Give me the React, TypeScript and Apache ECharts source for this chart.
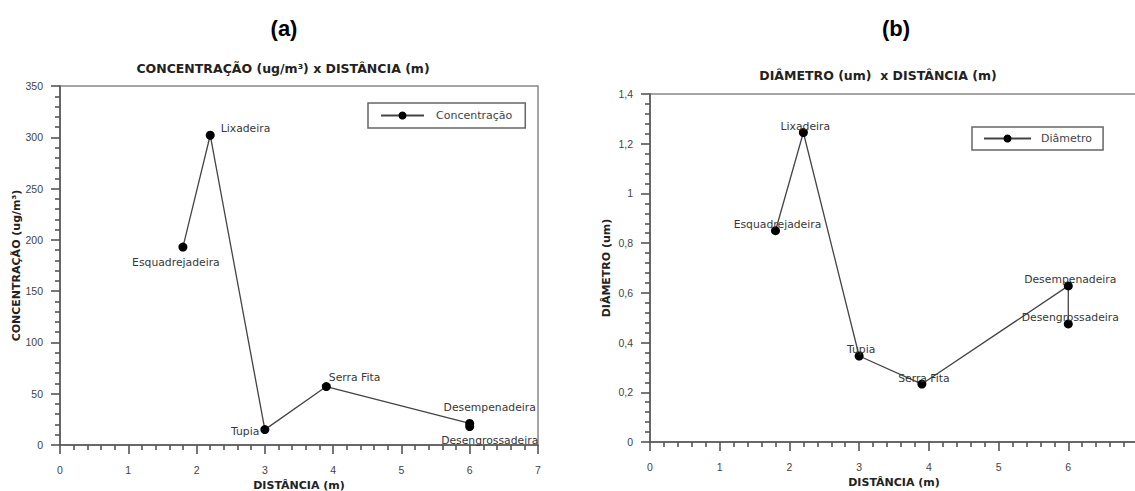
import React, { useEffect, useRef } from "react";
import * as echarts from "echarts";

// ---- Data ----
const pointNames = ["Esquadrejadeira", "Lixadeira", "Tupia", "Serra Fita", "Desempenadeira", "Desengrossadeira"];
const distanceA = [1.8, 2.2, 3.0, 3.9, 6.0, 6.0];
const concentration = [193, 302, 15, 57, 21, 18];
const distanceB = [1.8, 2.2, 3.0, 3.9, 6.0, 6.0];
const diameter = [0.85, 1.245, 0.346, 0.233, 0.628, 0.475];

const xTicksMax = 7;
const concMax = 350;
const concInterval = 50;
const diamMax = 1.4;
const diamInterval = 0.2;

// label placements (style only)
const labelPlacementA = [
  { position: "bottom", distance: 5, offset: [-7, 0] },
  { position: "right", distance: 6, offset: [0, -7] },
  { position: "left", distance: 1, offset: [0, 2] },
  { position: "right", distance: 5, offset: [-7, -9] },
  { position: "top", distance: 5, offset: [20, -1] },
  { position: "bottom", distance: 5, offset: [20, -1] },
];

const TICK_FONT = "Liberation Sans";
const LABEL_FONT = "DejaVu Sans";

function xAxisCfg(gridIndex: number) {
  return {
    type: "value",
    gridIndex,
    min: 0,
    max: xTicksMax,
    interval: 1,
    name: "DISTÂNCIA (m)",
    nameLocation: "middle",
    nameGap: 33,
    nameTextStyle: { fontFamily: LABEL_FONT, fontWeight: "bold", fontSize: 11, color: "#222" },
    axisLine: { show: true, onZero: false, lineStyle: { color: "#555", width: 1.5 } },
    axisTick: { show: true, length: 9, lineStyle: { color: "#555", width: 1.6 } },
    minorTick: { show: true, splitNumber: 5, length: 5, lineStyle: { color: "#555", width: 1.6 } },
    axisLabel: { margin: 19, fontFamily: TICK_FONT, fontSize: 10.5, color: "#444" },
    splitLine: { show: false },
  };
}

function yAxisCfg(gridIndex: number, max: number, interval: number, name: string, fmt: (v: number) => string) {
  return {
    type: "value",
    gridIndex,
    min: 0,
    max,
    interval,
    name,
    nameLocation: "middle",
    nameGap: 38,
    nameTextStyle: { fontFamily: LABEL_FONT, fontWeight: "bold", fontSize: 11, color: "#222" },
    axisLine: { show: true, onZero: false, lineStyle: { color: "#555", width: 1.5 } },
    axisTick: { show: true, length: 9, lineStyle: { color: "#555", width: 1.6 } },
    minorTick: { show: true, splitNumber: 5, length: 5, lineStyle: { color: "#555", width: 1.6 } },
    axisLabel: { margin: 17, fontFamily: TICK_FONT, fontSize: 10.5, color: "#444", formatter: fmt },
    splitLine: { show: false },
  };
}

export default function App() {
  const ref = useRef<HTMLDivElement>(null);

  useEffect(() => {
    if (!ref.current) return;
    const chart = echarts.init(ref.current, undefined, { renderer: "svg" });

    const labelBase = { show: true, fontFamily: LABEL_FONT, fontSize: 10.8, color: "#383838" };

    const dataA = pointNames.map((n, i) => ({
      name: n,
      value: [distanceA[i], concentration[i]],
      label: { ...labelBase, ...labelPlacementA[i], formatter: "{b}" },
    }));
    const dataB = pointNames.map((n, i) => ({
      name: n,
      value: [distanceB[i], diameter[i]],
      label: { ...labelBase, position: "inside", offset: [2, -6], formatter: "{b}" },
    }));

    const legendBase = {
      orient: "horizontal",
      borderColor: "#666",
      borderWidth: 1.5,
      itemHeight: 10,
      textStyle: { fontFamily: LABEL_FONT, fontSize: 11, color: "#444" },
    };

    const gridBase = {
      show: true,
      borderColor: "#888",
      borderWidth: 1.5,
      backgroundColor: "transparent",
      containLabel: false,
      outerBoundsMode: "none",
    };

    const option: any = {
      animation: false,
      backgroundColor: "#fff",
      grid: [
        { ...gridBase, left: 60, top: 86, width: 478, height: 359 },
        { ...gridBase, left: 650, top: 94, width: 488, height: 348 },
      ],
      xAxis: [xAxisCfg(0), xAxisCfg(1)],
      yAxis: [
        yAxisCfg(0, concMax, concInterval, "CONCENTRAÇÃO (ug/m³)", (v: number) => String(v)),
        yAxisCfg(1, diamMax, diamInterval, "DIÂMETRO (um)", (v: number) => String(Number(v.toFixed(1))).replace(".", ",")),
      ],
      legend: [
        {
          ...legendBase,
          left: 368,
          top: 103,
          padding: [7, 13, 7, 12],
          itemWidth: 43,
          textStyle: { ...legendBase.textStyle, padding: [0, 0, 0, 7] },
          data: ["Concentração"],
        },
        {
          ...legendBase,
          left: 972,
          top: 127,
          padding: [6, 11, 6, 11],
          itemWidth: 47,
          textStyle: { ...legendBase.textStyle, padding: [0, 0, 0, 5] },
          data: ["Diâmetro"],
        },
      ],
      graphic: [
        { type: "text", x: 284, y: 28, style: { text: "(a)", fontFamily: "Liberation Sans", fontWeight: "bold", fontSize: 22, fill: "#000", align: "center", verticalAlign: "middle" } },
        { type: "text", x: 896, y: 28, style: { text: "(b)", fontFamily: "Liberation Sans", fontWeight: "bold", fontSize: 22, fill: "#000", align: "center", verticalAlign: "middle" } },
        { type: "text", x: 283, y: 68, style: { text: "CONCENTRAÇÃO (ug/m³) x DISTÂNCIA (m)", fontFamily: LABEL_FONT, fontWeight: "bold", fontSize: 12.5, fill: "#222", align: "center", verticalAlign: "middle" } },
        { type: "text", x: 878, y: 75, style: { text: "DIÂMETRO (um)  x DISTÂNCIA (m)", fontFamily: LABEL_FONT, fontWeight: "bold", fontSize: 12.5, fill: "#222", align: "center", verticalAlign: "middle" } },
      ],
      series: [
        {
          name: "Concentração",
          type: "line",
          xAxisIndex: 0,
          yAxisIndex: 0,
          data: dataA,
          symbol: "circle",
          symbolSize: 9,
          itemStyle: { color: "#000" },
          lineStyle: { color: "#444", width: 1.3 },
        },
        {
          name: "Diâmetro",
          type: "line",
          xAxisIndex: 1,
          yAxisIndex: 1,
          data: dataB,
          symbol: "circle",
          symbolSize: 9,
          itemStyle: { color: "#000" },
          lineStyle: { color: "#444", width: 1.3 },
        },
      ],
    };

    chart.setOption(option);
    return () => chart.dispose();
  }, []);

  return <div ref={ref} style={{ position: "absolute", left: 0, top: 0, width: 1135, height: 491 }} />;
}
